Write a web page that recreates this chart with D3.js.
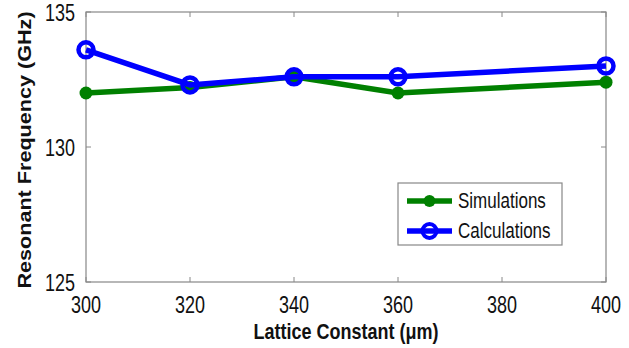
<!DOCTYPE html>
<html>
<head>
<meta charset="utf-8">
<script src="https://cdn.jsdelivr.net/npm/d3@7"></script>
<style>
  body { margin: 0; background: #fff; }
  svg text { font-family: "Liberation Sans", Arial, sans-serif; fill: #111; }
</style>
</head>
<body>
<div id="chart"></div>
<script>
// DATA
const lattice = [300, 320, 340, 360, 400]
const simulations = [132.0, 132.2, 132.6, 132.0, 132.4]
const calculations = [133.6, 132.3, 132.6, 132.6, 133.0]
const xTicks = [300, 320, 340, 360, 380, 400]
const yTicks = [125, 130, 135]

// SIZES
const W = 629, H = 348
const margin = { top: 12, right: 23, bottom: 66, left: 86 }
const width = W - margin.left - margin.right
const height = H - margin.top - margin.bottom

const svg = d3.select('#chart').append('svg')
  .attr('width', W)
  .attr('height', H)

const chart = svg.append('g')
  .attr('transform', `translate(${margin.left},${margin.top})`)

const x = d3.scaleLinear().domain([300, 400]).range([0, width])
const y = d3.scaleLinear().domain([125, 135]).range([height, 0])

// FRAME + TICKS
chart.append('rect')
  .attr('width', width).attr('height', height)
  .attr('fill', 'none').attr('stroke', '#888').attr('stroke-width', 1.2)

const tickLen = 5
chart.selectAll('line.xtb').data(xTicks).join('line')
  .attr('x1', d => x(d)).attr('x2', d => x(d))
  .attr('y1', height).attr('y2', height - tickLen)
  .attr('stroke', '#888')
chart.selectAll('line.xtt').data(xTicks).join('line')
  .attr('x1', d => x(d)).attr('x2', d => x(d))
  .attr('y1', 0).attr('y2', tickLen)
  .attr('stroke', '#888')
chart.selectAll('line.ytl').data(yTicks).join('line')
  .attr('x1', 0).attr('x2', tickLen)
  .attr('y1', d => y(d)).attr('y2', d => y(d))
  .attr('stroke', '#888')
chart.selectAll('line.ytr').data(yTicks).join('line')
  .attr('x1', width).attr('x2', width - tickLen)
  .attr('y1', d => y(d)).attr('y2', d => y(d))
  .attr('stroke', '#888')

// TICK LABELS (source image is stretched vertically, hence the scale)
chart.selectAll('text.xl').data(xTicks).join('text')
  .attr('transform', d => `translate(${x(d)},${height + 31}) scale(1,1.3)`)
  .attr('text-anchor', 'middle')
  .style('font-size', '18px')
  .text(d => d)

chart.selectAll('text.yl').data(yTicks).join('text')
  .attr('transform', d => `translate(-11,${y(d) + 9}) scale(1,1.3)`)
  .attr('text-anchor', 'end')
  .style('font-size', '18px')
  .text(d => d)

// AXIS NAMES
svg.append('text')
  .attr('transform', `translate(${margin.left + width / 2},${H - 9}) scale(1,1.25)`)
  .attr('text-anchor', 'middle')
  .style('font-size', '18px')
  .style('font-weight', 'bold')
  .text('Lattice Constant (μm)')

svg.append('text')
  .attr('transform', `translate(31,${margin.top + height / 2 + 3}) rotate(-90) scale(1.2,1)`)
  .attr('text-anchor', 'middle')
  .style('font-size', '18px')
  .style('font-weight', 'bold')
  .text('Resonant Frequency (GHz)')

// SERIES
const green = '#008000'
const blue = '#0000ff'
const line = d3.line().x(d => x(d[0])).y(d => y(d[1]))

const simPts = lattice.map((v, i) => [v, simulations[i]])
const calcPts = lattice.map((v, i) => [v, calculations[i]])

chart.append('path').datum(simPts)
  .attr('d', line).attr('fill', 'none')
  .attr('stroke', green).attr('stroke-width', 5.5)
chart.selectAll('circle.sim').data(simPts).join('circle')
  .attr('cx', d => x(d[0])).attr('cy', d => y(d[1])).attr('r', 6.5)
  .attr('fill', green)

chart.append('path').datum(calcPts)
  .attr('d', line).attr('fill', 'none')
  .attr('stroke', blue).attr('stroke-width', 5.5)
chart.selectAll('circle.calc').data(calcPts).join('circle')
  .attr('cx', d => x(d[0])).attr('cy', d => y(d[1])).attr('r', 7.5)
  .attr('fill', 'none').attr('stroke', blue).attr('stroke-width', 4.5)

// LEGEND
const legend = svg.append('g').attr('transform', 'translate(398,183)')
legend.append('rect')
  .attr('width', 164).attr('height', 62)
  .attr('fill', '#fff').attr('stroke', '#888').attr('stroke-width', 1.2)

const rows = [
  { name: 'Simulations', color: green, filled: true },
  { name: 'Calculations', color: blue, filled: false },
]
rows.forEach((r, i) => {
  const cy = 18 + i * 30
  legend.append('line')
    .attr('x1', 9).attr('x2', 54).attr('y1', cy).attr('y2', cy)
    .attr('stroke', r.color).attr('stroke-width', 5.5)
  legend.append('circle')
    .attr('cx', 31.5).attr('cy', cy).attr('r', r.filled ? 6 : 7)
    .attr('fill', r.filled ? r.color : 'none')
    .attr('stroke', r.filled ? 'none' : r.color).attr('stroke-width', 4)
  legend.append('text')
    .attr('transform', `translate(60,${cy + 7}) scale(1,1.25)`)
    .style('font-size', '17px')
    .text(r.name)
})
</script>
</body>
</html>
